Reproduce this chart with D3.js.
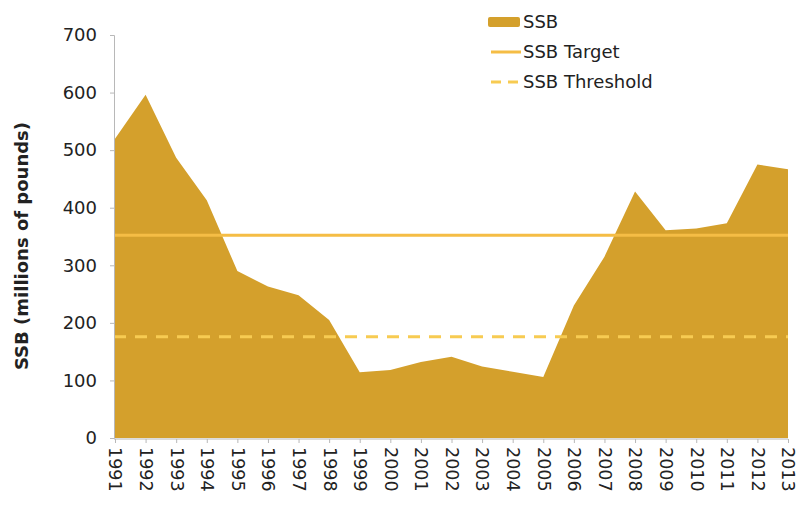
<!DOCTYPE html>
<html>
<head>
<meta charset="utf-8">
<script src="https://cdn.jsdelivr.net/npm/d3@7/dist/d3.min.js"></script>
<style>
  html, body { margin: 0; padding: 0; background: #fff; }
  svg { display: block; }
  text { font-family: "DejaVu Sans", "Liberation Sans", sans-serif; fill: #222; }
</style>
</head>
<body>
<svg id="chart" width="799" height="516"></svg>
<script>
// Spawning stock biomass by year (millions of pounds)
const years = ["1991","1992","1993","1994","1995","1996","1997","1998","1999","2000","2001","2002",
               "2003","2004","2005","2006","2007","2008","2009","2010","2011","2012","2013"];
const ssb = [520, 596, 487, 413, 290, 263, 248, 205, 114, 118, 132, 141,
             124, 115, 106, 230, 315, 428, 361, 364, 373, 475, 467];
const ssbTarget = 352;
const ssbThreshold = 176;
const yTicks = [0, 100, 200, 300, 400, 500, 600, 700];
const legendItems = ["SSB", "SSB Target", "SSB Threshold"];

const svg = d3.select("#chart");
const m = { left: 114, right: 788, top: 35, bottom: 438 };

const x = d3.scalePoint().domain(years).range([m.left + 1, m.right]).padding(0);
const y = d3.scaleLinear().domain([0, 700]).range([m.bottom, m.top]);

const fillCol = "#D4A02C";
const targetCol = "#F5BD45";
const threshCol = "#F7CB52";

// area
const area = d3.area()
  .x((d, i) => x(years[i]))
  .y0(y(0))
  .y1(d => y(d));
svg.append("path").datum(ssb).attr("d", area).attr("fill", fillCol);

// reference lines
svg.append("line")
  .attr("x1", m.left).attr("x2", m.right)
  .attr("y1", y(ssbTarget)).attr("y2", y(ssbTarget))
  .attr("stroke", targetCol).attr("stroke-width", 3);
svg.append("line")
  .attr("x1", m.left).attr("x2", m.right)
  .attr("y1", y(ssbThreshold)).attr("y2", y(ssbThreshold))
  .attr("stroke", threshCol).attr("stroke-width", 3)
  .attr("stroke-dasharray", "12,9");

// y axis
const yAxis = d3.axisLeft(y).tickValues(yTicks).tickSize(4).tickPadding(13);
const gy = svg.append("g").attr("transform", `translate(${m.left},0)`).call(yAxis);
gy.select(".domain").attr("stroke", "#b8b8b8");
gy.selectAll(".tick line").attr("stroke", "#b8b8b8");
gy.selectAll(".tick text").style("font-size", "18px").attr("fill", "#222");

// x axis
const xAxis = d3.axisBottom(x).tickSize(4).tickPadding(6);
const gx = svg.append("g").attr("transform", `translate(0,${m.bottom + 1})`).call(xAxis);
gx.select(".domain").attr("stroke", "#b8b8b8").attr("d", `M${m.left},0H${m.right}`);
gx.selectAll(".tick line").attr("stroke", "#b8b8b8");
gx.selectAll(".tick text")
  .style("font-size", "17.5px").attr("fill", "#222")
  .attr("text-anchor", "start")
  .attr("transform", "rotate(90)")
  .attr("x", 8).attr("y", 0).attr("dy", "0.35em");

// y axis title
svg.append("text")
  .attr("transform", `translate(22,246) rotate(-90)`)
  .attr("text-anchor", "middle").attr("dy", "0.35em")
  .style("font-size", "18px").style("font-weight", "bold")
  .text("SSB (millions of pounds)");

// legend
const lg = svg.append("g").attr("transform", "translate(488,0)");
legendItems.forEach((name, i) => {
  const cy = 22 + i * 30;
  if (i === 0) {
    lg.append("rect").attr("x", 0).attr("y", cy - 5).attr("width", 32).attr("height", 10)
      .attr("rx", 2).attr("fill", fillCol);
  } else {
    lg.append("line").attr("x1", 3).attr("x2", 33).attr("y1", cy).attr("y2", cy)
      .attr("stroke", i === 1 ? targetCol : threshCol).attr("stroke-width", 3)
      .attr("stroke-dasharray", i === 2 ? "10,7" : null);
  }
  lg.append("text").attr("x", 35).attr("y", cy).attr("dy", "0.35em")
    .style("font-size", "18px").text(name);
});
</script>
</body>
</html>
